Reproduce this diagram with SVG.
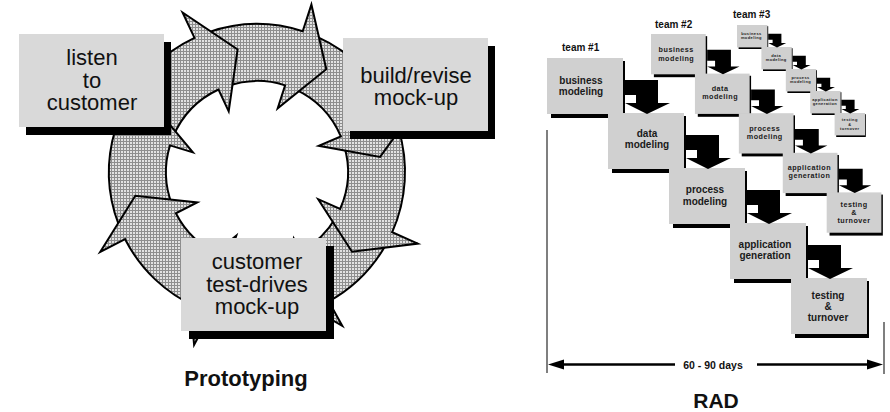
<svg xmlns="http://www.w3.org/2000/svg" xmlns:xlink="http://www.w3.org/1999/xlink" width="890" height="412" viewBox="0 0 890 412">
<defs>
<pattern id="hatch" width="3" height="3" patternUnits="userSpaceOnUse">
<rect width="3" height="3" fill="#e2e2e2"/>
<path d="M0 0.5H3M0.5 0V3" stroke="#8e8e8e" stroke-width="1"/>
</pattern>
<path id="bend" d="M78,22 H111 V45 H123 L100,56 L78,45 H89 V37 H78 Z"/>
</defs>
<style>
.ring{fill:url(#hatch);stroke:#000;stroke-width:2;stroke-linejoin:miter}
.pbox{fill:#d9d9d9}
.shadow{fill:#000}
.ptxt{font-family:"Liberation Sans",Arial,sans-serif;font-size:22px;fill:#111;text-anchor:middle}
.rbox{fill:#d0d0d0}
.rtxt{font-family:"Liberation Sans",Arial,sans-serif;font-weight:bold;font-size:10px;fill:#1a1a1a;text-anchor:middle}
.t2 .rtxt{letter-spacing:0.7px}
.t3 .rtxt{letter-spacing:1px}
.team{font-family:"Liberation Sans",Arial,sans-serif;font-weight:bold;font-size:10px;fill:#111}
.title{font-family:"Liberation Sans",Arial,sans-serif;font-weight:bold;fill:#111;text-anchor:middle}
.arr{fill:#000}
.dim{stroke:#000;stroke-width:2.5;fill:none}
.vline{stroke:#555;stroke-width:1.5}
</style>

<!-- Prototyping cycle arrows -->
<g id="connectors">
<g id="cycle-arrows">
<path class="ring" d="M385.2,246 A148,148 0 0 1 328.8,301.4 L342.3,325.9 L284.9,292.8 L293.8,238.5 L301.1,251.6 A91,91 0 0 0 335.8,217.5 Z"/>
<path class="ring" d="M398.5,128.7 A148,148 0 0 1 392.2,232.2 L417.8,243.6 L352,251.7 L318.2,199.2 L340.1,209 A91,91 0 0 0 344,145.4 Z"/>
<path class="ring" d="M317.2,36.8 A148,148 0 0 1 393.2,114.2 L419,103.2 L380.1,156.9 L318.7,145.8 L340.8,136.4 A91,91 0 0 0 294,88.9 Z"/>
<path class="ring" d="M208.8,32.1 A148,148 0 0 1 302.7,31.2 L311.4,4.6 L326.3,69.2 L277.7,108.3 L285.1,85.4 A91,91 0 0 0 227.4,86 Z"/>
<path class="ring" d="M120.8,114.2 A148,148 0 0 1 194.5,37.9 L182.6,12.5 L237.6,49.5 L228.7,111.3 L218.5,89.5 A91,91 0 0 0 173.2,136.4 Z"/>
<path class="ring" d="M118.8,225 A148,148 0 0 1 115.5,128.7 L88.7,120.5 L153,104.5 L192.9,152.4 L170,145.4 A91,91 0 0 0 172,204.6 Z"/>
<path class="ring" d="M196.8,307.2 A148,148 0 0 1 125.1,239.2 L100.2,251.9 L135.3,195.7 L197.3,202.4 L175.9,213.3 A91,91 0 0 0 220,255.1 Z"/>
<path class="ring" d="M314.8,308.2 A148,148 0 0 1 211.3,312.8 L194.1,344.9 L187.7,274.8 L236.3,235.7 L228.9,258.6 A91,91 0 0 0 292.6,255.8 Z"/>
</g>
</g>

<!-- Prototyping nodes -->
<g id="listen">
<rect class="shadow" x="26" y="42" width="145" height="93"/>
<rect class="pbox" x="19" y="34" width="145" height="93"/>
<text class="ptxt" x="92" y="65">listen</text>
<text class="ptxt" x="92" y="87.5">to</text>
<text class="ptxt" x="92" y="110">customer</text>
</g>
<g id="build">
<rect class="shadow" x="350" y="46" width="145" height="93"/>
<rect class="pbox" x="343" y="38" width="145" height="93"/>
<text class="ptxt" x="416" y="83">build/revise</text>
<text class="ptxt" x="416" y="105">mock-up</text>
</g>
<g id="testdrive">
<rect class="shadow" x="189" y="246" width="145" height="93"/>
<rect class="pbox" x="181" y="238" width="145" height="93"/>
<text class="ptxt" x="257" y="269">customer</text>
<text class="ptxt" x="257" y="291.5">test-drives</text>
<text class="ptxt" x="257" y="314">mock-up</text>
</g>
<text id="proto-title" class="title" x="246" y="386" font-size="22">Prototyping</text>

<!-- RAD -->
<text class="team" x="562" y="51">team #1</text>
<text class="team" x="655" y="28">team #2</text>
<text class="team" x="733" y="18" font-size="9.5">team #3</text>

<g id="team1" transform="translate(547,58)">
<g id="t1-business"><rect class="shadow" x="4" y="3" width="74" height="57"/><rect class="rbox" x="0" y="0" width="76" height="56"/><text class="rtxt" x="34" y="25.5">business</text><text class="rtxt" x="34" y="37">modeling</text></g>
<g id="t1-data"><rect class="shadow" x="65" y="58" width="74" height="57"/><rect class="rbox" x="61" y="55" width="76" height="56"/><text class="rtxt" x="100" y="78.5">data</text><text class="rtxt" x="100" y="90">modeling</text></g>
<g id="t1-process"><rect class="shadow" x="126" y="113" width="74" height="57"/><rect class="rbox" x="122" y="110" width="76" height="56"/><text class="rtxt" x="158" y="135">process</text><text class="rtxt" x="158" y="146.5">modeling</text></g>
<g id="t1-appgen"><rect class="shadow" x="187" y="168" width="74" height="57"/><rect class="rbox" x="183" y="165" width="76" height="56"/><text class="rtxt" x="218" y="189.5">application</text><text class="rtxt" x="218" y="201">generation</text></g>
<g id="t1-testing"><rect class="shadow" x="248" y="223" width="74" height="57"/><rect class="rbox" x="244" y="220" width="76" height="56"/><text class="rtxt" x="281" y="241">testing</text><text class="rtxt" x="281" y="252">&amp;</text><text class="rtxt" x="281" y="263">turnover</text></g>
</g>

<g id="team2" class="t2" transform="translate(651,34) scale(0.72)">
<g id="t2-business"><rect class="shadow" x="4" y="3" width="74" height="57"/><rect class="rbox" x="0" y="0" width="76" height="56"/><text class="rtxt" x="35" y="25.5">business</text><text class="rtxt" x="35" y="37">modeling</text></g>
<g id="t2-data"><rect class="shadow" x="65" y="58" width="74" height="57"/><rect class="rbox" x="61" y="55" width="76" height="56"/><text class="rtxt" x="96" y="78.5">data</text><text class="rtxt" x="96" y="90">modeling</text></g>
<g id="t2-process"><rect class="shadow" x="126" y="113" width="74" height="57"/><rect class="rbox" x="122" y="110" width="76" height="56"/><text class="rtxt" x="158" y="134.5">process</text><text class="rtxt" x="158" y="146">modeling</text></g>
<g id="t2-appgen"><rect class="shadow" x="187" y="168" width="74" height="57"/><rect class="rbox" x="183" y="165" width="76" height="56"/><text class="rtxt" x="220" y="188.5">application</text><text class="rtxt" x="220" y="200">generation</text></g>
<g id="t2-testing"><rect class="shadow" x="248" y="223" width="74" height="57"/><rect class="rbox" x="244" y="220" width="76" height="56"/><text class="rtxt" x="282" y="240">testing</text><text class="rtxt" x="282" y="251">&amp;</text><text class="rtxt" x="282" y="262">turnover</text></g>
</g>

<g id="team3" class="t3" transform="translate(737,25) scale(0.40)">
<g id="t3-business"><rect class="shadow" x="4" y="3" width="74" height="57"/><rect class="rbox" x="0" y="0" width="76" height="56"/><text class="rtxt" x="36" y="24.5">business</text><text class="rtxt" x="36" y="36">modeling</text></g>
<g id="t3-data"><rect class="shadow" x="65" y="58" width="74" height="57"/><rect class="rbox" x="61" y="55" width="76" height="56"/><text class="rtxt" x="98" y="79.5">data</text><text class="rtxt" x="98" y="91">modeling</text></g>
<g id="t3-process"><rect class="shadow" x="126" y="113" width="74" height="57"/><rect class="rbox" x="122" y="110" width="76" height="56"/><text class="rtxt" x="159" y="134.5">process</text><text class="rtxt" x="159" y="146">modeling</text></g>
<g id="t3-appgen"><rect class="shadow" x="187" y="168" width="74" height="57"/><rect class="rbox" x="183" y="165" width="76" height="56"/><text class="rtxt" x="220" y="189.5">application</text><text class="rtxt" x="220" y="201">generation</text></g>
<g id="t3-testing"><rect class="shadow" x="248" y="223" width="74" height="57"/><rect class="rbox" x="244" y="220" width="76" height="56"/><text class="rtxt" x="282" y="241">testing</text><text class="rtxt" x="282" y="252">&amp;</text><text class="rtxt" x="282" y="263">turnover</text></g>
</g>

<g id="rad-connectors">
<g transform="translate(547,58)" class="arr">
<use xlink:href="#bend" x="0" y="0"/><use xlink:href="#bend" x="61" y="55"/><use xlink:href="#bend" x="122" y="110"/><use xlink:href="#bend" x="183" y="165"/>
</g>
<g transform="translate(651,34) scale(0.72)" class="arr">
<use xlink:href="#bend" x="0" y="0"/><use xlink:href="#bend" x="61" y="55"/><use xlink:href="#bend" x="122" y="110"/><use xlink:href="#bend" x="183" y="165"/>
</g>
<g transform="translate(737,25) scale(0.40)" class="arr">
<use xlink:href="#bend" x="0" y="0"/><use xlink:href="#bend" x="61" y="55"/><use xlink:href="#bend" x="122" y="110"/><use xlink:href="#bend" x="183" y="165"/>
</g>
</g>

<g id="duration">
<line class="vline" x1="547" y1="130" x2="547" y2="373"/>
<line class="vline" x1="884" y1="322" x2="884" y2="374"/>
<line class="dim" x1="556" y1="364.5" x2="675" y2="364.5"/>
<line class="dim" x1="757" y1="364.5" x2="875" y2="364.5"/>
<polygon class="arr" points="548,364.5 564,359.5 564,369.5"/>
<polygon class="arr" points="883,364.5 867,359.5 867,369.5"/>
<text class="title" x="713" y="368.5" font-size="10.5">60 - 90 days</text>
</g>
<text id="rad-title" class="title" x="716" y="408" font-size="21">RAD</text>
</svg>
